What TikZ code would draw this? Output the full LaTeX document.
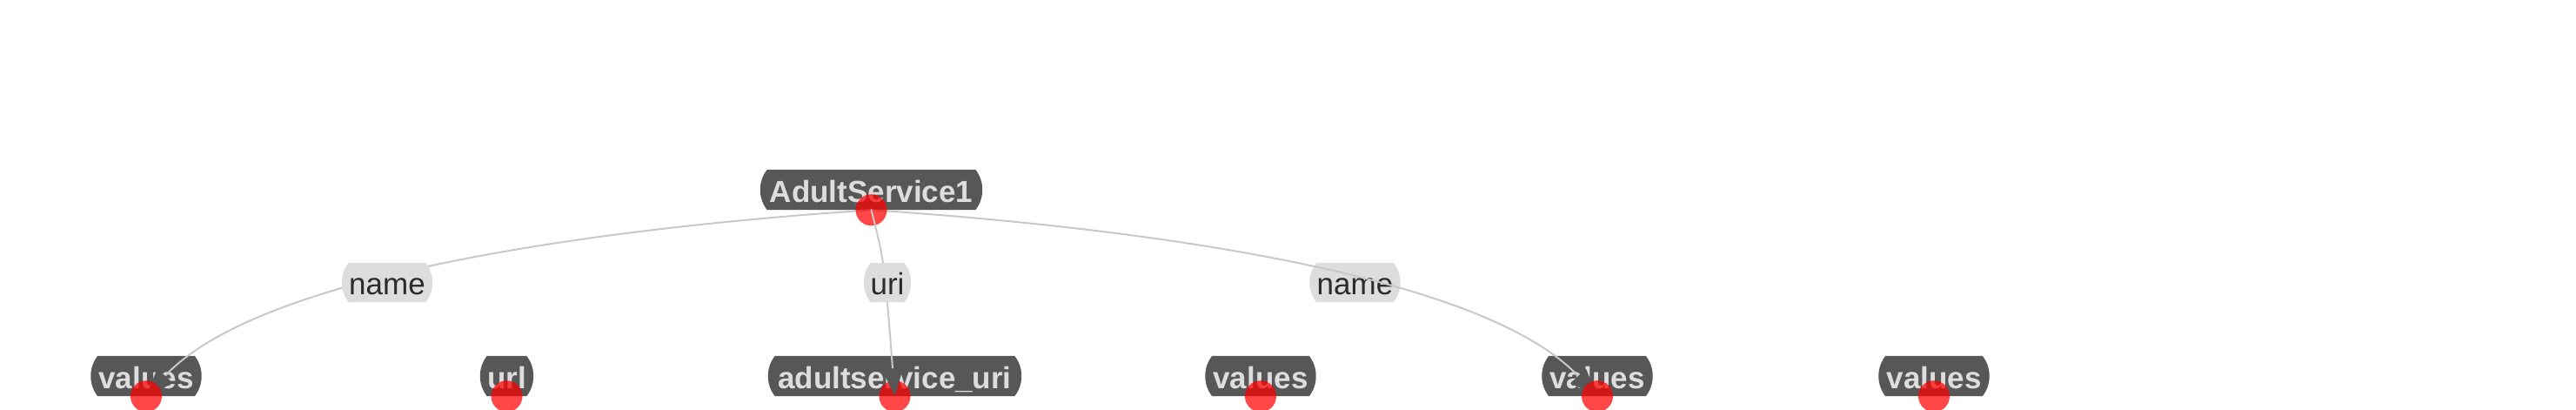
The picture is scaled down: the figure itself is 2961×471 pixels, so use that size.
\documentclass[tikz,border=0pt]{standalone}
\usepackage{fontspec}
\setmainfont{Liberation Sans}
\usetikzlibrary{arrows.meta}
\pgfdeclarelayer{background}
\pgfdeclarelayer{labelbg}
\pgfdeclarelayer{labelfg}
\pgfsetlayers{background,main,labelbg,labelfg}
\definecolor{nodefill}{HTML}{575757}
\definecolor{nodetext}{HTML}{DDDDDD}
\definecolor{labfill}{HTML}{DDDDDD}
\definecolor{labtext}{HTML}{2B2B2B}
\definecolor{edgecol}{HTML}{C8C8C8}
\definecolor{arrowcol}{HTML}{575757}
\newcommand\barrelshape[2]{%
  \fill[#2] ([xshift=8pt]#1.north west) -- ([xshift=-8pt]#1.north east)
    .. controls +(10.7,13.5) and +(10.7,-13.5) .. ([xshift=-8pt]#1.south east)
    -- ([xshift=8pt]#1.south west)
    .. controls +(-10.7,-13.5) and +(-10.7,13.5) .. ([xshift=8pt]#1.north west) -- cycle;}
\begin{document}
\begin{tikzpicture}[x=1pt,y=-1pt,
  ent/.style={rectangle, text=nodetext, font=\fontsize{35}{42}\selectfont\bfseries,
    minimum height=46pt, inner sep=0pt, text height=29pt, text depth=0pt},
  elab/.style={rectangle, text=labtext, font=\fontsize{35}{42}\selectfont,
    minimum height=45pt, inner sep=0pt, text height=28pt, text depth=0pt},
  link/.style={draw=edgecol, line width=2pt, line cap=round,
    -{Triangle[length=32pt,width=24pt,color=arrowcol]}},
  redmark/.style={circle, fill=red, fill opacity=0.72, draw=none, minimum size=36pt, inner sep=0pt}
]
\useasboundingbox (0,0) rectangle (2961,471);
% entity nodes
\node[ent, minimum width=255pt] (as)  at (1001.5,218) {AdultService1};
\node[ent, minimum width=127pt] (v1)  at (168,432)    {values};
\node[ent, minimum width=61pt]  (url) at (582.5,432)  {url};
\node[ent, minimum width=291pt] (asu) at (1028.5,432) {adultservice\_uri};
\node[ent, minimum width=127pt] (v2)  at (1449,432)   {values};
\node[ent, minimum width=127pt] (v3)  at (1836,432)   {values};
\node[ent, minimum width=127pt] (v4)  at (2223,432)   {values};
% right edge label (lies under its line)
\node[elab, minimum width=104pt] (nR) at (1557.5,324.5) {name};
\begin{pgfonlayer}{background}
  \barrelshape{as}{nodefill}
  \barrelshape{v1}{nodefill}
  \barrelshape{url}{nodefill}
  \barrelshape{asu}{nodefill}
  \barrelshape{v2}{nodefill}
  \barrelshape{v3}{nodefill}
  \barrelshape{v4}{nodefill}
  \barrelshape{nR}{labfill}
\end{pgfonlayer}
% curved edges
\draw[link] (as.south) .. controls +(-300,20) and +(133,-143) .. (v1.south);
\draw[link] (as.south) .. controls +(300,20) and +(-135,-143) .. (v3.south);
% red markers
\node[redmark] (m0) at (as.south)  {};
\node[redmark] (m1) at (v1.south)  {};
\node[redmark] (m2) at (url.south) {};
\node[redmark] (m3) at (asu.south) {};
\node[redmark] (m4) at (v2.south)  {};
\node[redmark] (m5) at (v3.south)  {};
\node[redmark] (m6) at (v4.south)  {};
% straight-ish edge
\draw[link] (as.south) .. controls +(15,59) .. (asu.south);
% edge labels above their lines
\begin{pgfonlayer}{labelfg}
  \node[elab, minimum width=104pt] (nL) at (445,324.5)  {name};
  \node[elab, minimum width=54pt]  (uL) at (1020,324.5) {uri};
\end{pgfonlayer}
\begin{pgfonlayer}{labelbg}
  \barrelshape{nL}{labfill}
  \barrelshape{uL}{labfill}
\end{pgfonlayer}
\end{tikzpicture}
\end{document}
